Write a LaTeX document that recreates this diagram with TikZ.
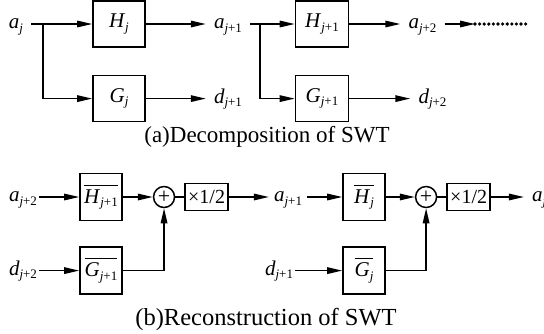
\documentclass[tikz,border=0pt]{standalone}
\usepackage{fontspec}
\setmainfont{Liberation Serif}
\usetikzlibrary{arrows.meta,positioning}
\newcommand{\sig}[2]{\textit{#1}\raisebox{-3.5pt}{\fontsize{13}{13}\selectfont\textit{j}#2}}
\newcommand{\barsig}[2]{\setbox0\hbox{\sig{#1}{#2}}\rlap{\rule[\dimexpr\ht0+3.5pt\relax]{\wd0}{1.4pt}}\box0}
\tikzset{
  blockbox/.style={draw, line width=1.6pt, minimum width=52pt, minimum height=46pt,
    inner sep=0pt, font=\fontsize{21}{24}\selectfont},
  barbox/.style={blockbox, minimum width=42pt, minimum height=47pt},
  sumnode/.style={draw, circle, line width=1.5pt, minimum size=21pt, inner sep=0pt,
    font=\fontsize{22}{22}\selectfont},
  gainbox/.style={draw, line width=1.6pt, minimum width=43pt, minimum height=27pt,
    inner sep=0pt, font=\fontsize{20}{22}\selectfont},
  signal/.style={inner xsep=8pt, inner ysep=1pt, text height=9.5pt, text depth=0pt,
    font=\fontsize{21}{24}\selectfont},
  caption/.style={font=\fontsize{23}{26}\selectfont},
  arrow/.style={-{Triangle[length=15pt,width=6.5pt]}, line width=1.5pt},
  link/.style={line width=1.5pt},
  dotline/.style={line width=3.6pt, line cap=round, dash pattern=on 0pt off 4.6pt}
}
\begin{document}
\begin{tikzpicture}[x=1pt, y=-1pt]
  \useasboundingbox (0,0) rectangle (544,333);
  % (a) decomposition
  \node[signal] (aj) at (16,24) {\sig{a}{}};
  \coordinate (split1) at (43,24);
  \node[blockbox] (Hj) at (119,24) {\sig{H}{}};
  \node[blockbox, below=27pt of Hj] (Gj) {\sig{G}{}};
  \node[signal, right=60pt of Hj] (aj1) {\sig{a}{+1}};
  \node[signal, right=60pt of Gj] (dj1) {\sig{d}{+1}};
  \coordinate (split2) at (260,24);
  \node[blockbox, minimum width=53pt] (Hj1) at (322,24) {\sig{H}{+1}};
  \node[blockbox, minimum width=53pt, below=27pt of Hj1] (Gj1) {\sig{G}{+1}};
  \node[signal, right=51pt of Hj1] (aj2) {\sig{a}{+2}};
  \node[signal, right=61pt of Gj1] (dj2) {\sig{d}{+2}};
  \coordinate (dotsA) at (475,24);
  \coordinate (dotsB) at (527,24);
  \node[caption] (capA) at (267,137) {(a)Decomposition of SWT};
  \draw[arrow] (aj) -- (Hj);
  \draw[arrow] (split1) |- (Gj);
  \draw[arrow] (Hj) -- (aj1);
  \draw[arrow] (Gj) -- (dj1);
  \draw[arrow] (aj1) -- (Hj1);
  \draw[arrow] (split2) |- (Gj1);
  \draw[arrow] (Hj1) -- (aj2);
  \draw[arrow] (Gj1) -- (dj2);
  \draw[arrow] (aj2) -- (dotsA);
  \draw[dotline] (dotsA) -- (dotsB);
  % (b) reconstruction
  \node[signal, inner xsep=2pt] (aj2b) at (23,197) {\sig{a}{+2}};
  \node[barbox] (Hb1) at (101,197) {\barsig{H}{+1}};
  \node[barbox, below=25pt of Hb1] (Gb1) {\barsig{G}{+1}};
  \node[signal, inner xsep=2pt] (dj2b) at (aj2b |- Gb1) {\sig{d}{+2}};
  \node[sumnode, right=30pt of Hb1] (sum1) {+};
  \node[gainbox, right=9pt of sum1] (half1) {×1/2};
  \node[signal, inner xsep=5pt, right=40pt of half1] (aj1b) {\sig{a}{+1}};
  \node[barbox, right=35pt of aj1b] (Hb) {\barsig{H}{}};
  \node[barbox, below=25pt of Hb] (Gb) {\barsig{G}{}};
  \node[signal, inner xsep=2pt, left=47pt of Gb] (dj1b) {\sig{d}{+1}};
  \node[sumnode, right=29pt of Hb] (sum2) {+};
  \node[gainbox, right=9pt of sum2] (half2) {×1/2};
  \node[signal, inner xsep=8pt, right=33pt of half2] (ajout) {\sig{a}{}};
  \node[caption, font=\fontsize{24.5}{27}\selectfont] (capB) at (266,319) {(b)Reconstruction of SWT};
  \draw[arrow] (aj2b) -- (Hb1);
  \draw[arrow] (dj2b) -- (Gb1);
  \draw[arrow] (Hb1) -- (sum1);
  \draw[link] (sum1) -- (half1);
  \draw[arrow] (Gb1) -| (sum1);
  \draw[arrow] (half1) -- (aj1b);
  \draw[arrow] (aj1b) -- (Hb);
  \draw[arrow] (dj1b) -- (Gb);
  \draw[arrow] (Hb) -- (sum2);
  \draw[link] (sum2) -- (half2);
  \draw[arrow] (Gb) -| (sum2);
  \draw[arrow] (half2) -- (ajout);
\end{tikzpicture}
\end{document}
